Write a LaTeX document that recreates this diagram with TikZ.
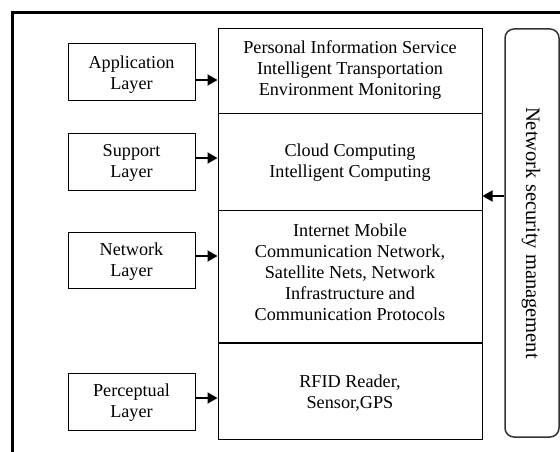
\documentclass[tikz,border=0pt]{standalone}
\usepackage{fontspec}
\setmainfont{Liberation Serif}
\usetikzlibrary{arrows.meta}
\begin{document}
\begin{tikzpicture}[x=1pt,y=-1pt,
  txt/.style={font=\fontsize{18.2}{21}\selectfont, align=center, inner sep=0pt},
  layerbox/.style={draw, line width=1pt, minimum width=127pt},
  stackbox/.style={draw, line width=1pt, minimum width=264pt},
  arr/.style={line width=1.8pt, -{Triangle[length=10pt,width=11pt]}}]
\useasboundingbox (0,0) rectangle (560,452);
\fill[white] (0,0) rectangle (560,452);
% outer frame
\draw[line width=3pt] (12,455) -- (12,13) -- (565,13);
% left layer boxes
\node[layerbox, minimum height=57pt] (app) at (131.5,72.5) {};
\node[txt] at (131.5,74.5) {Application\\Layer};
\node[layerbox, minimum height=57pt] (sup) at (131.5,161.5) {};
\node[txt] at (131.5,163) {Support\\Layer};
\node[layerbox, minimum height=56pt] (net) at (131.5,260) {};
\node[txt] at (131.5,261.5) {Network\\Layer};
\node[layerbox, minimum height=57pt] (per) at (131.5,401.5) {};
\node[txt] at (131.5,403) {Perceptual\\Layer};
% stack
\node[stackbox, minimum height=84pt] (s1) at (350,71) {};
\node[txt] at (350,70.5) {Personal Information Service\\Intelligent Transportation\\Environment Monitoring};
\node[stackbox, minimum height=97pt] (s2) at (350,161.5) {};
\node[txt] at (350,163) {Cloud Computing\\Intelligent Computing};
\node[stackbox, minimum height=133pt] (s3) at (350,276.5) {};
\node[txt] at (350,272.5) {Internet Mobile\\Communication Network,\\Satellite Nets, Network\\Infrastructure and\\Communication Protocols};
\node[stackbox, minimum height=96pt] (s4) at (350,391) {};
\node[txt] at (350,393) {RFID Reader,\\Sensor,GPS};
\draw[line width=2pt] (s4.north west) -- (s4.north east);
% security management
\node[draw=black!80, line width=1.5pt, rounded corners=9pt, minimum width=54pt, minimum height=408pt] (sec) at (532,233) {};
\node[txt, font=\fontsize{20.5}{24}\selectfont, rotate=-90] at (531,233) {Network security management};
% arrows
\draw[arr] (app.east |- 0,80) -- (s1.west |- 0,80);
\draw[arr] (sup.east |- 0,158) -- (s2.west |- 0,158);
\draw[arr] (net.east |- 0,256) -- (s3.west |- 0,256);
\draw[arr] (per.east |- 0,398) -- (s4.west |- 0,398);
\draw[arr] (sec.west |- 0,196) -- (s2.east |- 0,196);
\end{tikzpicture}
\end{document}
